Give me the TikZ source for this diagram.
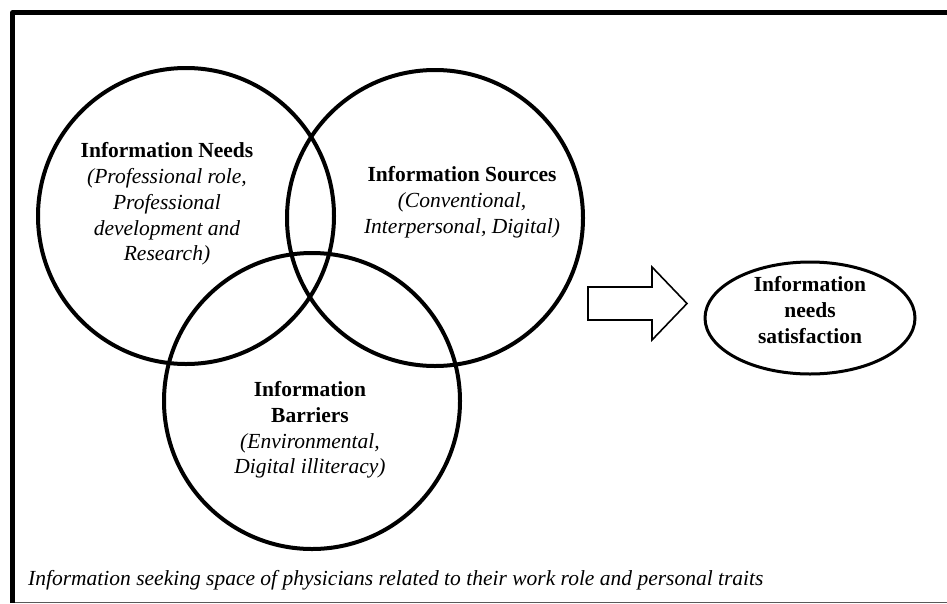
\documentclass[tikz,border=0pt]{standalone}
\usepackage{fontspec}
\setmainfont{Liberation Serif}
\usetikzlibrary{shapes.geometric}
\begin{document}
\begin{tikzpicture}[x=1pt,y=-1pt,
  venn/.style={draw, circle, line width=4pt, minimum size=296pt, inner sep=0pt},
  lbl/.style={align=center, inner sep=0pt, font=\fontsize{21.5}{25.8}\selectfont},
  goal/.style={draw, ellipse, line width=3pt, minimum width=210pt, minimum height=112pt, inner sep=0pt},
  frameline/.style={line width=5pt, line join=round},
  fatarrow/.style={draw, line width=1.6pt, line join=miter}]
\useasboundingbox (0,0) rectangle (947,603);
% frame
\coordinate (fbl) at (12.5,603);
\coordinate (ftl) at (12.5,12.5);
\coordinate (ftr) at (947,12.5);
\draw[frameline] (fbl) -- (ftl) -- (ftr);
\coordinate (bl) at (15,602);
\coordinate (br) at (947,602);
\draw[gray!70!black, line width=1pt] (bl) -- (br);
% circles
\node[venn] (needs) at (186,216) {};
\node[venn] (sources) at (435,218) {};
\node[venn] (barriers) at (312,401) {};
% texts
\node[lbl] (tneeds) at (167,204) {\textbf{Information Needs}\\\textit{(Professional role,}\\\textit{Professional}\\\textit{development and}\\\textit{Research)}};
\node[lbl] (tsources) at (462,202) {\textbf{Information Sources}\\\textit{(Conventional,}\\\textit{Interpersonal, Digital)}};
\node[lbl] (tbarriers) at (310,430) {\textbf{Information}\\\textbf{Barriers}\\\textit{(Environmental,}\\\textit{Digital illiteracy)}};
% arrow
\coordinate (a1) at (588,287);
\coordinate (a2) at (652,287);
\coordinate (a3) at (652,267);
\coordinate (a4) at (687,303.5);
\coordinate (a5) at (652,340);
\coordinate (a6) at (652,320);
\coordinate (a7) at (588,320);
\draw[fatarrow] (a1) -- (a2) -- (a3) -- (a4) -- (a5) -- (a6) -- (a7) -- cycle;
% goal
\node[goal] (sat) at (810,318) {};
\node[lbl] (tsat) at (810,310) {\textbf{Information}\\\textbf{needs}\\\textbf{satisfaction}};
% caption
\node[lbl, anchor=west] (cap) at (28,580) {\textit{Information seeking space of physicians related to their work role and personal traits}};
\end{tikzpicture}
\end{document}
